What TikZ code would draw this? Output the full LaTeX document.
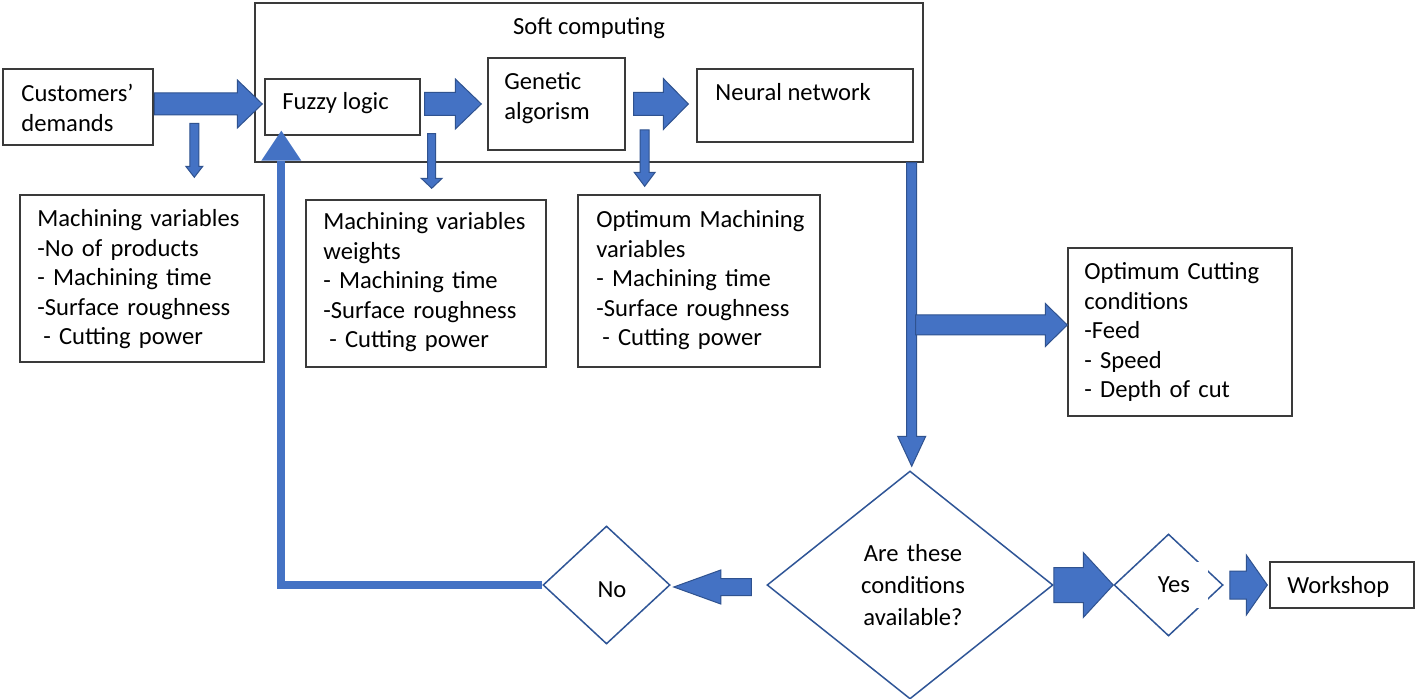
\documentclass[tikz,border=0pt]{standalone}
\usepackage{fontspec}
\setmainfont{Carlito}
\usetikzlibrary{calc,shapes.geometric}
\definecolor{abl}{HTML}{4472C4}
\definecolor{abd}{HTML}{2F528F}
\definecolor{dmc}{HTML}{2F5597}
\definecolor{bxc}{HTML}{3A3A3A}
\newcommand\blockarr[5]{%
  \coordinate (bah) at ($(#2)!#5!(#1)$);
  \filldraw[blockarrow] ($(#1)!#3!90:(#2)$) -- ($(bah)!#3!90:(#2)$) -- ($(bah)!#4!90:(#2)$) -- (#2) -- ($(bah)!#4!-90:(#2)$) -- ($(bah)!#3!-90:(#2)$) -- ($(#1)!#3!-90:(#2)$) -- cycle;}
\begin{document}
\begin{tikzpicture}[x=0.5pt,y=-0.5pt,
  box/.style={draw=bxc,line width=0.7pt,inner sep=0pt},
  dia/.style={draw=dmc,line width=0.75pt,shape=diamond,inner sep=0pt},
  txt/.style={inner sep=0pt,font=\fontsize{12.3pt}{14.75pt}\selectfont,text width=125pt,align=left,anchor=base west},
  lbl/.style={inner sep=0pt,font=\fontsize{12.3pt}{14.75pt}\selectfont},
  blockarrow/.style={fill=abl,draw=abd,line width=0.5pt,line join=miter},
  fbline/.style={draw=abl,line width=4pt,line join=miter}]
\fill[white] (0,0) rectangle (1416,699);
\useasboundingbox (0,0) rectangle (1416,699);

% boxes
\node[box, line width=1.3pt, minimum width=75pt, minimum height=38pt] (cust) at (78,107) {};
\node[box, minimum width=334pt, minimum height=79.5pt] (soft) at (589,82.5) {};
\node[box, minimum width=77.5pt, minimum height=28pt] (fuzzy) at (342.5,107) {};
\node[box, minimum width=68.5pt, minimum height=46pt] (genetic) at (556.5,104) {};
\node[box, minimum width=108pt, minimum height=36.5pt] (neural) at (805,105.5) {};
\node[box, minimum width=122pt, minimum height=83.5pt] (mv) at (142,278.5) {};
\node[box, minimum width=120pt, minimum height=83.5pt] (mvw) at (426,283.5) {};
\node[box, minimum width=121pt, minimum height=86pt] (omv) at (699,281) {};
\node[box, minimum width=112pt, minimum height=84pt] (occ) at (1180,332) {};
\node[box, minimum width=72pt, minimum height=23pt] (work) at (1342,585) {};
\node[dia, minimum width=143pt, minimum height=114pt] (dec) at (910,585) {};
\node[dia, minimum width=63.5pt, minimum height=59pt] (no) at (606.5,585) {};
\node[dia, minimum width=54.5pt, minimum height=51pt] (yes) at (1168.5,585) {};

% texts
\node[txt] (custt) at (21,102) {Customers’\\demands};
\node[lbl,anchor=base] (softt) at (589,35) {Soft computing};
\node[lbl,anchor=base west] (fuzzyt) at (282,110) {Fuzzy logic};
\node[txt] (gent) at (504,90) {Genetic\\algorism};
\node[lbl,anchor=base west] (neut) at (715,101) {Neural network};
\node[txt] (mvt) at (37,227) {Machining variables\\-No of products\\- Machining time\\-Surface roughness\\\hspace*{3pt}- Cutting power};
\node[txt] (mvwt) at (323,230) {Machining variables\\weights\\- Machining time\\-Surface roughness\\\hspace*{3pt}- Cutting power};
\node[txt] (omvt) at (596,228) {Optimum Machining\\variables\\- Machining time\\-Surface roughness\\\hspace*{3pt}- Cutting power};
\node[txt] (occt) at (1084,280) {Optimum Cutting\\conditions\\-Feed\\- Speed\\- Depth of cut};
\node[txt, align=center, text width=80pt, anchor=base, font=\fontsize{12.3pt}{16pt}\selectfont] (dect) at (913,561) {Are these\\conditions\\available?};
\node[lbl,anchor=base] (not) at (612,597) {No};
\node[lbl, fill=white, minimum width=34pt, minimum height=23pt] (yest) at (1174,585) {Yes};
\node[lbl,anchor=base west] (workt) at (1287,593) {Workshop};

% block arrows
\coordinate (a1s) at ($(cust.east)+(0,-3)$);
\coordinate (a1t) at ($(fuzzy.west)+(-2,-3)$);
\blockarr{a1s}{a1t}{5.5pt}{12pt}{12.5pt}
\coordinate (a2s) at ($(fuzzy.east)+(4,-3)$);
\coordinate (a2t) at ($(genetic.west)+(-6,0)$);
\blockarr{a2s}{a2t}{5.75pt}{12.5pt}{13pt}
\coordinate (a3s) at ($(genetic.east)+(8,0)$);
\coordinate (a3t) at ($(neural.west|-genetic.east)+(-8,0)$);
\blockarr{a3s}{a3t}{5.75pt}{12.75pt}{12.5pt}
\coordinate (d0s) at ($(cust.south east)+(40,-23)$);
\coordinate (d0t) at ($(d0s|-mv.north)+(0,-17)$);
\blockarr{d0s}{d0t}{2.25pt}{4.25pt}{5.5pt}
\coordinate (d1s) at ($(fuzzy.south east)+(11,-2)$);
\coordinate (d1t) at ($(d1s|-mvw.north)+(0,-11)$);
\blockarr{d1s}{d1t}{2pt}{5.25pt}{5pt}
\coordinate (d2s) at ($(genetic.east)+(19,26)$);
\coordinate (d2t) at ($(d2s|-omv.north)+(0,-8)$);
\blockarr{d2s}{d2t}{2.25pt}{5.25pt}{7pt}
\coordinate (vs) at ($(soft.south east)+(-12,0)$);
\coordinate (vt) at ($(vs|-dec.north)+(0,-4)$);
\blockarr{vs}{vt}{2.5pt}{7pt}{15pt}
\coordinate (brt) at ($(occ.west)+(0,-7)$);
\coordinate (brs) at ($(vs|-brt)+(4,0)$);
\blockarr{brs}{brt}{5pt}{10.75pt}{11pt}
\blockarr{dec.east}{yes.west}{8.75pt}{16.25pt}{15pt}
\coordinate (ywS) at ($(yes.east)+(6,0)$);
\coordinate (ywT) at ($(work.west)+(-2,0)$);
\blockarr{ywS}{ywT}{7pt}{15pt}{10.5pt}
\coordinate (dnS) at ($(dec.west)+(-15,2)$);
\coordinate (dnT) at ($(no.east)+(3,2)$);
\blockarr{dnS}{dnT}{4.25pt}{8.5pt}{23.5pt}

% feedback
\coordinate (fbt) at ($(fuzzy.south west)+(17,-5)$);
\coordinate (fbb) at ($(fbt)+(0,30)$);
\draw[fbline] (no.west) -| (fbb);
\fill[abl] (fbt) -- ($(fbb)+(-20,0)$) -- ($(fbb)+(20,0)$) -- cycle;
\end{tikzpicture}
\end{document}
